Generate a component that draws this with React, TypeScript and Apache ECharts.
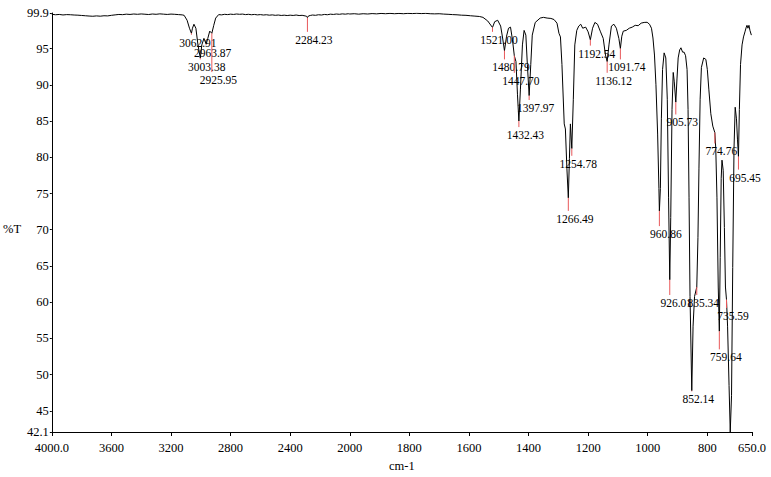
import React, { useEffect, useRef } from "react";
import * as echarts from "echarts";

// ---- data ----
const xTickWavenumbers = [4000, 3600, 3200, 2800, 2400, 2000, 1800, 1600, 1400, 1200, 1000, 800, 650];
const yTickValues = [42.1, 45, 50, 55, 60, 65, 70, 75, 80, 85, 90, 95, 99.9];

// [wavenumber cm-1, %T]
const spectrum: [number, number][] = [
  [4000, 99.72], [3975, 99.66], [3950, 99.7], [3925, 99.63], [3900, 99.68], [3875, 99.66], [3850, 99.62],
  [3825, 99.6], [3800, 99.56], [3775, 99.52], [3750, 99.48], [3725, 99.45], [3700, 99.5], [3675, 99.46],
  [3650, 99.52], [3625, 99.5], [3600, 99.58], [3575, 99.64], [3550, 99.7], [3525, 99.67], [3500, 99.74],
  [3475, 99.7], [3450, 99.76], [3425, 99.72], [3400, 99.77], [3375, 99.73], [3350, 99.69], [3325, 99.76],
  [3300, 99.72], [3275, 99.78], [3250, 99.74], [3225, 99.7], [3200, 99.75], [3175, 99.72], [3150, 99.68],
  [3125, 99.64], [3112, 99.58], [3092, 98.9], [3076, 97.8], [3062.91, 97.1], [3056, 97.8], [3046, 98.35],
  [3033, 97.8], [3019, 95.5], [3003.38, 93.7], [2993, 95.5], [2979, 96.4], [2963.87, 95.6], [2953, 96.4],
  [2940, 97.4], [2925.95, 97.1], [2913, 98.2], [2900, 99.2], [2880, 99.68], [2860, 99.64], [2840, 99.72],
  [2820, 99.68], [2800, 99.74], [2780, 99.7], [2760, 99.76], [2740, 99.72], [2720, 99.75], [2700, 99.68],
  [2680, 99.72], [2660, 99.66], [2640, 99.7], [2620, 99.64], [2600, 99.68], [2580, 99.62], [2560, 99.66],
  [2540, 99.6], [2520, 99.64], [2500, 99.58], [2480, 99.62], [2460, 99.56], [2440, 99.6], [2420, 99.55],
  [2400, 99.6], [2380, 99.56], [2360, 99.62], [2340, 99.55], [2320, 99.58], [2300, 99.5], [2290, 99.45],
  [2284.23, 99.25], [2278, 99.48], [2265, 99.56], [2250, 99.62], [2230, 99.58], [2210, 99.66], [2190, 99.62],
  [2170, 99.7], [2150, 99.66], [2130, 99.74], [2110, 99.7], [2090, 99.76], [2070, 99.72], [2050, 99.78],
  [2030, 99.74], [2010, 99.8], [2000, 99.76], [1985, 99.8], [1970, 99.74], [1955, 99.8], [1940, 99.76],
  [1925, 99.82], [1910, 99.78], [1895, 99.84], [1880, 99.8], [1865, 99.85], [1850, 99.8], [1835, 99.84],
  [1820, 99.8], [1805, 99.85], [1790, 99.82], [1775, 99.86], [1760, 99.82], [1745, 99.85], [1730, 99.8],
  [1715, 99.78], [1700, 99.8], [1685, 99.75], [1670, 99.72], [1655, 99.68], [1640, 99.65], [1625, 99.6],
  [1610, 99.58], [1595, 99.52], [1580, 99.47], [1565, 99.42], [1553, 99.3], [1537, 98.8], [1521, 97.9],
  [1513.6, 98.7], [1503.6, 98.9], [1493.6, 98.1], [1487, 96.45], [1480.79, 94.7], [1473.8, 96.7],
  [1467.2, 97.8], [1460.5, 97.95], [1453.9, 96.2], [1447.7, 94.0], [1442.2, 93.2], [1437.2, 88.7],
  [1432.43, 85.0], [1427.2, 89.4], [1420.5, 95.5], [1414.9, 97.5], [1409, 96.85], [1404, 92.8],
  [1397.97, 88.5], [1392.5, 92.8], [1387.5, 96.85], [1377.5, 98.6], [1361, 99.2], [1350, 99.3],
  [1337.7, 99.2], [1325, 99.15], [1314.5, 99.0], [1304.5, 98.5], [1297.9, 97.1], [1292.9, 96.6],
  [1287.9, 92.8], [1280.2, 84.6], [1276.3, 83.9], [1271.3, 78.5], [1266.49, 74.4], [1262.8, 79.8],
  [1259.5, 84.6], [1254.78, 81.2], [1249.7, 88.0], [1244.7, 95.5], [1238.1, 97.5], [1231.4, 98.1],
  [1224.8, 98.35], [1218.2, 97.8], [1208.2, 97.95], [1200, 97.3], [1192.54, 96.2], [1185.1, 97.8],
  [1177.3, 98.6], [1168.4, 98.35], [1158.4, 97.3], [1149.4, 96.4], [1141.8, 94.1], [1136.12, 93.2],
  [1130.1, 95.5], [1121.8, 98.1], [1113.5, 98.35], [1105.2, 97.8], [1096.9, 96.4], [1091.74, 95.0],
  [1087, 96.7], [1082, 97.4], [1072, 97.5], [1062, 97.8], [1052, 97.95], [1042, 98.2], [1032, 98.15],
  [1022, 98.5], [1012, 98.6], [1002, 98.62], [994, 98.35], [987.4, 97.8], [982.4, 96.45], [977.3, 94.1],
  [972.4, 90.0], [966.7, 83.2], [962.4, 75.7], [960.86, 72.6], [957.5, 75.7], [954.2, 85.3], [950.2, 92.1],
  [944.9, 94.4], [939.3, 93.7], [934.3, 88.0], [930, 74.4], [926.01, 63.1], [922.7, 71.7], [918.4, 86.6],
  [914.4, 91.7], [911.1, 90.5], [905.73, 87.6], [901.8, 90.8], [897.8, 93.7], [892.8, 94.8], [888.5, 95.1],
  [882.9, 94.5], [877.9, 94.5], [872.9, 94.0], [867.9, 92.1], [864.6, 86.6], [861.3, 74.4], [858, 60.8],
  [852.14, 47.8], [847.8, 56.7], [842.8, 60.8], [835.34, 62.1], [831.4, 68.9], [828, 78.5], [824.1, 88.0],
  [819.8, 92.4], [812.1, 93.7], [804.9, 93.5], [799.9, 92.1], [794.9, 89.4], [788.2, 86.0], [781.6, 84.3],
  [774.76, 83.4], [771.6, 81.2], [767.6, 74.4], [763.3, 62.1], [759.64, 56.0], [756.7, 66.2], [753.4, 77.1],
  [750.7, 79.6], [746.7, 78.2], [742.7, 70.3], [739.1, 62.1], [735.59, 60.35], [732, 56.7], [727, 48.5],
  [723, 42.1], [718.7, 47.1], [714.7, 64.8], [710.4, 81.2], [706.4, 86.9], [702.1, 85.3], [698.8, 82.5],
  [695.45, 80.1], [692.4, 86.6], [688.5, 92.8], [683.4, 95.5], [678.5, 96.6], [673.6, 97.3], [669.2, 97.95],
  [666.8, 98.2], [663.6, 97.8], [660.2, 98.2], [656.9, 97.5], [652.1, 96.85],
];

// peak picks: wavenumber, %T at peak tip, %T where the marker ends (label level)
const peakWavenumbers = [3062.91, 3003.38, 2963.87, 2925.95, 2284.23, 1521.0, 1480.79, 1447.7, 1432.43, 1397.97,
  1266.49, 1254.78, 1192.54, 1136.12, 1091.74, 960.86, 926.01, 905.73, 852.14, 835.34, 774.76, 759.64, 735.59, 695.45];
const peakTransmittance = [97.1, 93.7, 95.6, 97.1, 99.25, 97.9, 94.7, 94.0, 85.0, 88.5,
  74.4, 81.2, 96.2, 93.2, 95.0, 72.6, 63.1, 87.6, 47.8, 62.1, 83.4, 56.0, 60.35, 80.1];
const peakLabelLevel = [96.9, 93.5, 95.5, 91.75, 97.3, 97.3, 93.5, 91.65, 84.16, 87.9,
  72.6, 80.2, 95.4, 91.65, 93.5, 70.5, 61.0, 85.9, 47.7, 61.0, 81.9, 53.5, 59.2, 78.3];

// ---- axis transform: 4000-2000 compressed 2x, 2000-650 linear ----
const toU = (w: number) => (w >= 2000 ? (4000 - w) / 2 : 3000 - w);
const fromU = (u: number) => (u <= 1000 ? 4000 - 2 * u : 3000 - u);

const FONT = "Liberation Serif";

export default function App() {
  const ref = useRef<HTMLDivElement>(null);
  useEffect(() => {
    document.body.style.margin = "0";
    if (!ref.current) return;
    const chart = echarts.init(ref.current, undefined, { renderer: "svg" });
    const xTicks = xTickWavenumbers.map(toU);
    const peakData = peakWavenumbers.map((w, i) => [toU(w), peakTransmittance[i], peakLabelLevel[i]]);
    const axisText = { fontFamily: FONT, fontSize: 12.5, color: "#000", fontWeight: "normal" };
    chart.setOption({
      animation: false,
      backgroundColor: "#ffffff",
      textStyle: { fontFamily: FONT, fontSize: 12.5, color: "#000" },
      grid: { left: 44, right: 19, top: 13, bottom: 40 },
      xAxis: {
        type: "value",
        min: toU(4000),
        max: toU(650),
        name: "cm-1",
        nameLocation: "middle",
        nameGap: 27,
        nameTextStyle: { ...axisText },
        axisLine: { show: true, lineStyle: { color: "#000", width: 1 } },
        axisTick: { show: true, length: 4, customValues: xTicks, lineStyle: { color: "#000" } },
        axisLabel: {
          ...axisText,
          customValues: xTicks,
          margin: 9,
          formatter: (v: number) => {
            const w = Math.round(fromU(v));
            return w === 4000 || w === 650 ? w.toFixed(1) : String(w);
          },
        },
        splitLine: { show: false },
      },
      yAxis: {
        type: "value",
        min: 42.1,
        max: 99.9,
        name: "%T",
        nameLocation: "middle",
        nameRotate: 0,
        nameGap: 19,
        nameTextStyle: { ...axisText, verticalAlign: "top" },
        axisLine: { show: true, lineStyle: { color: "#000", width: 1 } },
        axisTick: { show: true, length: 2, customValues: yTickValues, lineStyle: { color: "#000" } },
        axisLabel: {
          ...axisText,
          customValues: yTickValues,
          margin: 3,
          padding: [0, 0, 6, 0],
          formatter: (v: number) => String(v),
        },
        splitLine: { show: false },
      },
      series: [
        {
          type: "line",
          data: spectrum.map(([w, t]) => [toU(w), t]),
          showSymbol: false,
          symbol: "none",
          lineStyle: { color: "#000", width: 1 },
          z: 2,
        },
        {
          type: "custom",
          data: peakData,
          z: 3,
          clip: false,
          renderItem: (params: any, api: any) => {
            const tip = api.coord([api.value(0), api.value(1)]);
            const end = api.coord([api.value(0), api.value(2)]);
            const label = peakWavenumbers[params.dataIndex].toFixed(2);
            return {
              type: "group",
              children: [
                {
                  type: "line",
                  shape: { x1: tip[0], y1: tip[1], x2: end[0], y2: end[1] },
                  style: { stroke: "#e8585a", lineWidth: 1 },
                },
                {
                  type: "text",
                  style: {
                    text: label,
                    x: end[0] + 6.5,
                    y: end[1] + 8,
                    align: "center",
                    verticalAlign: "middle",
                    fontFamily: FONT,
                    fontSize: 11.5,
                    fill: "#000",
                  },
                },
              ],
            };
          },
        },
      ],
    });
    return () => chart.dispose();
  }, []);
  return <div ref={ref} style={{ width: 771, height: 477 }} />;
}
